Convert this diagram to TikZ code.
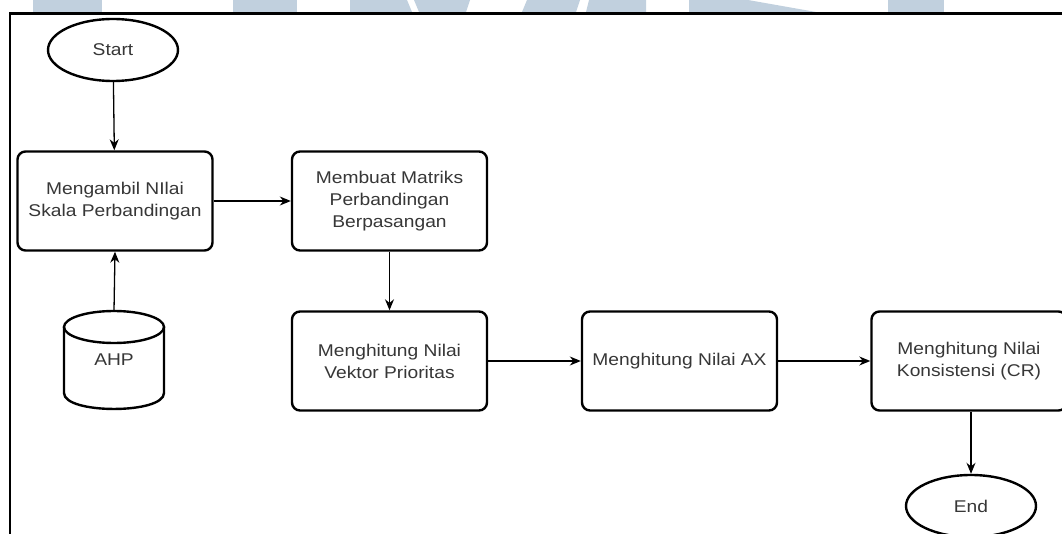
\documentclass[tikz,border=0pt]{standalone}
\usepackage{fontspec}
\setmainfont{Liberation Sans}[FakeStretch=1.13]
\usetikzlibrary{shapes.geometric,arrows.meta}
\definecolor{wm}{RGB}{193,208,222}
\definecolor{txt}{RGB}{55,55,55}
\tikzset{
  proc/.style={draw=black, line width=2.4pt, rounded corners=8pt, minimum width=195pt, minimum height=99pt, align=center, text=txt, font=\fontsize{17}{22}\selectfont, inner sep=0pt},
  term/.style={draw=black, line width=2.4pt, ellipse, minimum width=130pt, minimum height=62pt, text=txt, font=\fontsize{17}{22}\selectfont, inner sep=0pt},
  arr/.style={line width=1.3pt, -{Stealth[length=11pt,width=9pt]}},
  wmark/.style={fill=wm, draw=none},
  cyl/.style={line width=2.4pt}
}
\begin{document}
\begin{tikzpicture}[x=1pt,y=-1pt]
\useasboundingbox (0,0) rectangle (1062,534);
\fill[white] (0,0) rectangle (1062,534);
% watermark strip
\fill[wmark] (33,0) rectangle (102,12);
\fill[wmark] (233,0) rectangle (297,12);
\fill[wmark] (350,0) -- (407,0) -- (412,12) -- (350,12) -- cycle;
\fill[wmark] (414,0) -- (470,0) -- (466,12) -- (419,12) -- cycle;
\fill[wmark] (527,0) -- (580,0) -- (576,12) -- (522,12) -- cycle;
\fill[wmark] (589,0) -- (646,0) -- (646,12) -- (586,12) -- cycle;
\fill[wmark] (689,0) -- (748,0) -- (816,12) -- (689,12) -- cycle;
\fill[wmark] (888,0) rectangle (944,12);
% outer frame
\draw[line width=2.4pt] (10,560) -- (10,13.5) -- (1080,13.5);
% nodes
\node[term] (start) at (113,50) {Start};
\node[proc] (b1) at (115,201) {Mengambil NIlai\\Skala Perbandingan};
\node[proc] (b2) at (389.5,201) {Membuat Matriks\\Perbandingan\\Berpasangan};
\node[proc] (b3) at (389.5,361) {Menghitung Nilai\\Vektor Prioritas};
\node[proc] (b4) at (679.5,361) {Menghitung Nilai AX};
\node[proc] (b5) at (969,361) {Menghitung Nilai\\Konsistensi (CR)};
\node[term] (end) at (971,506) {End};
% AHP cylinder
\node[minimum width=100pt, minimum height=98pt, inner sep=0pt, text=txt, font=\fontsize{17}{22}\selectfont] (ahp) at (114,360) {AHP};
\draw[cyl] (64,327) -- (64,393) .. controls (64,414.3) and (164,414.3) .. (164,393) -- (164,327);
\draw[cyl] (114,327) ellipse[x radius=50pt, y radius=16pt];
% connectors
\draw[arr] (start) -- (b1);
\draw[arr] (ahp.north) -- (b1.south);
\draw[arr] (b1) -- (b2);
\draw[arr] (b2) -- (b3);
\draw[arr] (b3) -- (b4);
\draw[arr] (b4) -- (b5);
\draw[arr] (b5.south -| end.north) -- (end.north);
\end{tikzpicture}
\end{document}
